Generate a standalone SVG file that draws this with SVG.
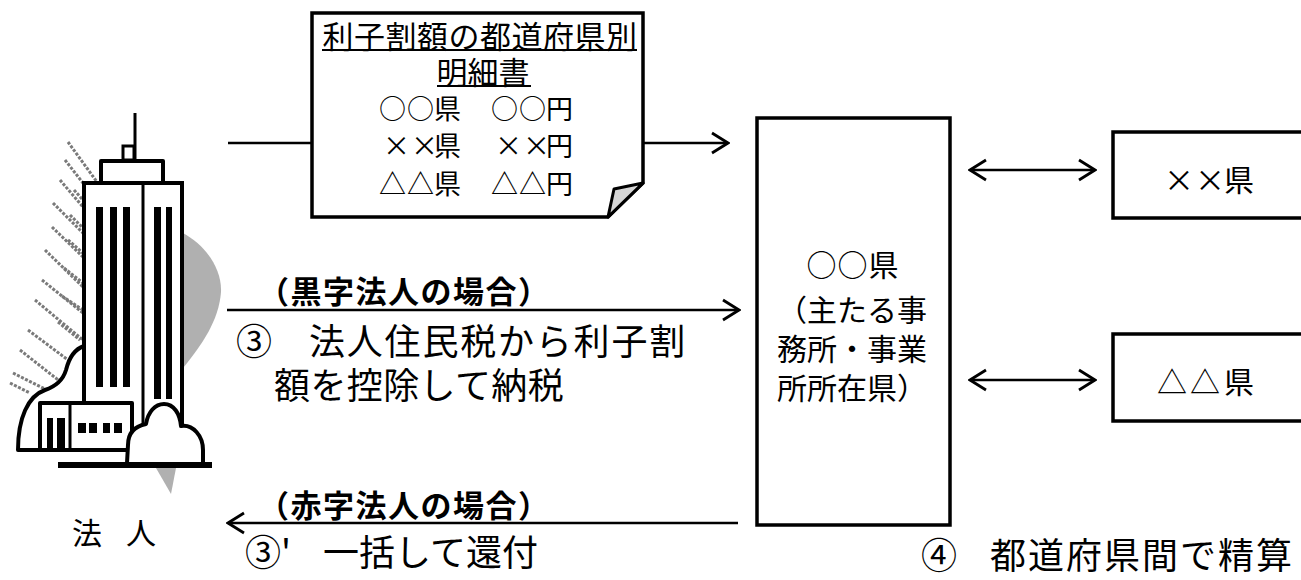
<svg xmlns="http://www.w3.org/2000/svg" width="1301" height="580" viewBox="0 0 1301 580">
  <style>
    .t { font-family: "Noto Sans CJK JP", "Noto Sans CJK SC", sans-serif; fill: #000; dominant-baseline: central; }
    .box { fill: #fff; stroke: #000; stroke-width: 3.5; }
    .ln { stroke: #000; stroke-width: 2.5; fill: none; }
    .ol { fill: #fff; stroke: #000; stroke-width: 4; stroke-linejoin: round; }
    .hatch { stroke: #7a7a7a; stroke-width: 3; stroke-dasharray: 3 1.5; fill: none; }
    .shade { fill: #b0b0b0; }
  </style>
  <defs>
    <marker id="arrow" markerUnits="userSpaceOnUse" markerWidth="20" markerHeight="24" viewBox="-2 -2 20 24" refX="16" refY="10" orient="auto-start-reverse">
      <path d="M0,0 L16,10 L0,20" fill="none" stroke="#000" stroke-width="2.8"/>
    </marker>
  </defs>

  <rect width="1301" height="580" fill="#fff"/>

  <!-- corporation: office building illustration -->
  <g id="corporation">
    <g id="hatching">
      <path class="hatch" d="M68,142 L97,182 M65,160 L83,183 M60,180 L83,207 M53,203 L83,233 M52,227 L83,257 M45,250 L83,287 M42,280 L83,313 M35,300 L83,340 M28,330 L72,363 M20,350 L62,383 M13,373 L47,390 M10,383 L30,393"/>
      <path class="hatch" d="M74,190 L83,200 M70,215 L83,228 M68,240 L83,253 M64,268 L83,283 M62,296 L83,310 M58,322 L80,340"/>
      <path class="shade" d="M183,233 C205,245 222,268 221,292 C219,320 202,345 183,368 Z"/>
      <path class="shade" d="M156,468 L176,468 L171,494 Z"/>
    </g>
    <!-- tower -->
    <rect x="84" y="183" width="98" height="250" fill="#fff"/>
    <path d="M84,433 L84,183 L182,183 L182,433" fill="none" stroke="#000" stroke-width="4"/>
    <line x1="143" y1="183" x2="143" y2="428" stroke="#000" stroke-width="3"/>
    <g fill="#000">
      <rect x="96" y="207" width="7" height="180"/>
      <rect x="110" y="207" width="7" height="180"/>
      <rect x="123" y="207" width="7" height="180"/>
      <rect x="154" y="207" width="7" height="192"/>
      <rect x="166" y="207" width="6" height="192"/>
    </g>
    <rect class="ol" x="101" y="161" width="62" height="22"/>
    <rect x="123" y="146" width="11" height="14" fill="#fff" stroke="#000" stroke-width="3"/>
    <line x1="135" y1="113" x2="135" y2="161" stroke="#000" stroke-width="3"/>
    <!-- left shrub -->
    <path class="ol" d="M18,450 C18,418 28,396 45,390 C57,386 63,380 66,370 C69,358 75,349 84,346 L84,450 Z"/>
    <!-- low annex -->
    <rect class="ol" x="40" y="403" width="92" height="47"/>
    <line x1="70" y1="403" x2="70" y2="450" stroke="#000" stroke-width="3"/>
    <g fill="#000">
      <rect x="47" y="418" width="6" height="30"/>
      <rect x="57" y="418" width="8" height="30"/>
      <rect x="78" y="423" width="8" height="10"/>
      <rect x="89" y="423" width="8" height="10"/>
      <rect x="103" y="423" width="7" height="10"/>
      <rect x="114" y="423" width="8" height="10"/>
    </g>
    <!-- right shrub -->
    <path class="ol" d="M127,463 L128,445 C128,432 136,426 146,424 C148,412 155,404 164,404 C174,404 180,414 181,426 C193,424 203,436 203,450 L203,463"/>
    <rect x="58" y="462" width="154" height="6" fill="#000"/>
    <text class="t" x="72" y="531" font-size="30" letter-spacing="-3">法　人</text>
  </g>

  <!-- per-prefecture statement (folded corner sheet) -->
  <g id="statement">
    <path class="box" d="M312,13 L643,13 L643,183 L608,217 L312,217 Z"/>
    <path d="M608,217 L614,189 L643,183 Z" fill="#d6d6d6" stroke="#000" stroke-width="3" stroke-linejoin="round"/>
    <text class="t" font-size="31" text-anchor="middle"><tspan x="480" y="34" letter-spacing="0.5">利子割額の都道府県別</tspan><tspan x="483" y="70">明細書</tspan></text>
    <line x1="322" y1="50" x2="637" y2="50" stroke="#000" stroke-width="2"/>
    <line x1="437" y1="86" x2="531" y2="86" stroke="#000" stroke-width="2"/>
    <text class="t" font-size="27"><tspan y="107" x="379 407 434 491 519 546">○○県○○円</tspan><tspan y="144" x="383 411 434 495 523 546">××県××円</tspan><tspan y="182" x="379 407 434 491 519 546">△△県△△円</tspan></text>
  </g>

  <!-- principal office prefecture -->
  <g id="main-prefecture">
    <rect class="box" x="757" y="118" width="193" height="407"/>
    <text class="t" font-size="30" text-anchor="middle"><tspan x="853" y="263" letter-spacing="1">○○県</tspan><tspan x="852" y="308">（主たる事</tspan><tspan x="852" y="347">務所・事業</tspan><tspan x="852" y="386">所所在県）</tspan></text>
  </g>

  <g id="pref-x">
    <rect class="box" x="1113" y="132" width="200" height="86"/>
    <text class="t" font-size="30" y="178" x="1164 1195 1224">××県</text>
  </g>

  <g id="pref-triangle">
    <rect class="box" x="1113" y="334" width="200" height="87"/>
    <text class="t" font-size="30" y="380" x="1157 1190 1224">△△県</text>
  </g>

  <!-- connectors -->
  <g id="connectors">
    <line class="ln" x1="228" y1="143" x2="312" y2="143"/>
    <line class="ln" x1="643" y1="143" x2="728" y2="143" marker-end="url(#arrow)"/>
    <line class="ln" x1="227" y1="310" x2="739" y2="310" marker-end="url(#arrow)"/>
    <line class="ln" x1="738" y1="523" x2="228" y2="523" marker-end="url(#arrow)"/>
    <line class="ln" x1="970" y1="170" x2="1095" y2="170" marker-start="url(#arrow)" marker-end="url(#arrow)"/>
    <line class="ln" x1="970" y1="380" x2="1095" y2="380" marker-start="url(#arrow)" marker-end="url(#arrow)"/>
  </g>

  <!-- connector labels -->
  <g id="labels">
    <text class="t" x="258" y="289" font-size="31" font-weight="bold" letter-spacing="1.5">（黒字法人の場合）</text>
    <text class="t" font-size="36"><tspan x="236" y="339">③</tspan><tspan x="309" y="339" letter-spacing="1.8">法人住民税から利子割</tspan><tspan x="274" y="383" letter-spacing="0.4">額を控除して納税</tspan></text>
    <text class="t" x="258" y="503" font-size="31" font-weight="bold" letter-spacing="1.5">（赤字法人の場合）</text>
    <text class="t" y="550" font-size="36"><tspan x="245">③'</tspan><tspan x="323">一括して還付</tspan></text>
    <text class="t" y="553" font-size="36" letter-spacing="2"><tspan x="921">④</tspan><tspan x="990">都道府県間で精算</tspan></text>
  </g>
</svg>
